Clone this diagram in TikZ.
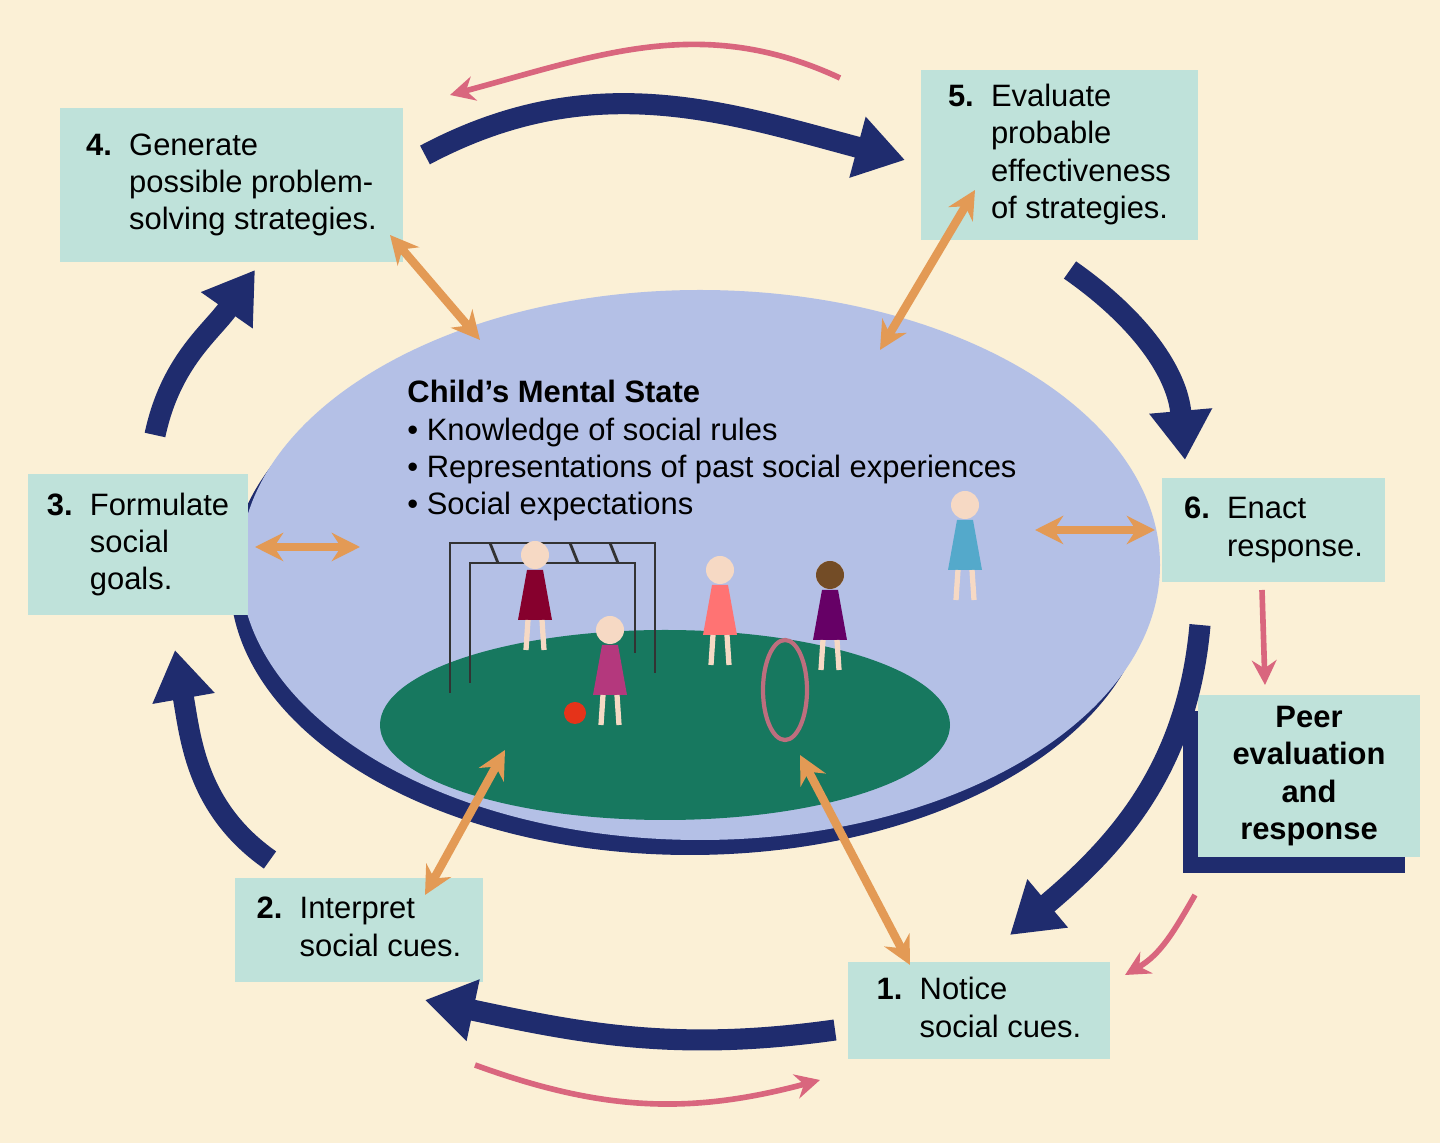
\documentclass[tikz,border=0pt]{standalone}
\usepackage{fontspec}
\setmainfont{Liberation Sans}
\usetikzlibrary{arrows.meta,positioning}
\definecolor{cream}{HTML}{FBF0D6}
\definecolor{boxfill}{HTML}{BFE2DA}
\definecolor{navy}{HTML}{1F2C6E}
\definecolor{lav}{HTML}{B4C0E6}
\definecolor{ground}{HTML}{17785F}
\definecolor{pinkline}{HTML}{D9667E}
\definecolor{orangeline}{HTML}{E39A55}
\definecolor{skin}{HTML}{F6D9C4}
\tikzset{
  box/.style={fill=boxfill, inner sep=3pt, font=\fontsize{8.8}{10.6}\selectfont},
  cycle/.style={navy, line width=6pt, -{Triangle[length=14pt,width=17pt]}},
  feedback/.style={pinkline, line width=1.6pt, -{Stealth[length=7pt,width=7pt]}},
  link/.style={orangeline, line width=2.4pt, {Stealth[length=8pt,width=8pt]}-{Stealth[length=8pt,width=8pt]}},
  dress/.style={line width=0.4pt}
}
\newcommand{\steplist}[2]{\begin{tabular}{@{}l@{\ \ }l@{}}\textbf{#1}&#2\end{tabular}}
\newcommand{\kid}[3]{%
  \fill[#3] (#1-0.17,#2-0.65) -- (#1-0.08,#2-0.15) -- (#1+0.08,#2-0.15) -- (#1+0.17,#2-0.65) -- cycle;
  \draw[skin, line width=1.5pt] (#1-0.07,#2-0.65) -- (#1-0.09,#2-0.95) (#1+0.07,#2-0.65) -- (#1+0.09,#2-0.95);
  \fill[skin] (#1,#2) circle (0.14);}

\begin{document}
\begin{tikzpicture}
  \useasboundingbox[fill=cream] (0,0) rectangle (14.4,11.43);

  % central ellipse with shadow
  \fill[navy] (6.9,5.63) ellipse (4.6 and 2.75);
  \fill[lav] (7.0,5.78) ellipse (4.6 and 2.75);
  \fill[ground] (6.65,4.18) ellipse (2.85 and 0.95);

  \node[anchor=north west, align=left, font=\fontsize{8.8}{10.6}\selectfont] (mind) at (3.95,7.75)
    {\textbf{Child's Mental State}\\
     • Knowledge of social rules\\
     • Representations of past social experiences\\
     • Social expectations};

  % playground
  \draw[black!80, line width=0.8pt] (4.5,4.5) -- (4.5,6.0) -- (6.55,6.0) -- (6.55,4.7)
    (4.7,4.6) -- (4.7,5.8) -- (6.35,5.8) -- (6.35,4.9);
  \foreach \x in {4.9,5.3,5.7,6.1} \draw[black!80, line width=0.8pt] (\x,6.0) -- (\x+0.08,5.8);
  \kid{5.35}{5.88}{purple!70!black}
  \kid{6.1}{5.13}{magenta!70!black}
  \kid{7.2}{5.73}{red!55}
  \kid{8.3}{5.68}{violet!80!black}
  \fill[brown!60!black] (8.3,5.68) circle (0.14);
  \kid{9.65}{6.38}{cyan!60!gray}
  \draw[pinkline!70!gray, line width=1.2pt] (7.85,4.53) ellipse (0.22 and 0.5);
  \fill[red!60!brown] (5.75,4.3) circle (0.11);

  % steps
  \node[box, minimum width=3.43cm, minimum height=1.54cm] (gen) at (2.315,9.58)
    {\steplist{4.}{Generate\\&possible problem-\\&solving strategies.}};
  \node[box, minimum width=2.77cm, minimum height=1.70cm] (eval) at (10.595,9.88)
    {\steplist{5.}{Evaluate\\&probable\\&effectiveness\\&of strategies.}};
  \node[box, minimum width=2.20cm, minimum height=1.41cm] (goal) at (1.38,5.98)
    {\steplist{3.}{Formulate\\&social\\&goals.}};
  \node[box, minimum width=2.23cm, minimum height=1.04cm] (enact) at (12.735,6.13)
    {\steplist{6.}{Enact\\&response.}};
  \fill[navy] (11.83,2.70) rectangle (14.05,4.32);
  \node[box, minimum width=2.22cm, minimum height=1.62cm, align=center, font=\fontsize{8.8}{10.6}\selectfont\bfseries] (peer) at (13.09,3.67)
    {Peer\\evaluation\\and\\response};
  \node[box, minimum width=2.48cm, minimum height=1.04cm] (interp) at (3.59,2.13)
    {\steplist{2.}{Interpret\\&social cues.}};
  \node[box, minimum width=2.62cm, minimum height=0.97cm] (notice) at (9.79,1.32)
    {\steplist{1.}{Notice\\&social cues.}};

  % main cycle
  \coordinate (c4a) at (4.25,9.88);  \coordinate (c4b) at (9.05,9.83);
  \coordinate (c5a) at (10.7,8.73);  \coordinate (c5b) at (11.85,6.83);
  \coordinate (c6a) at (12.0,5.18);  \coordinate (c6b) at (10.1,2.08);
  \coordinate (c1a) at (8.35,1.13);  \coordinate (c1b) at (4.25,1.43);
  \coordinate (c2a) at (2.7,2.83);   \coordinate (c2b) at (1.75,4.93);
  \coordinate (c3a) at (1.55,7.08);  \coordinate (c3b) at (2.55,8.73);
  \draw[cycle] (c4a) to[out=28,in=165] (c4b);
  \draw[cycle] (c5a) to[out=-35,in=95] (c5b);
  \draw[cycle] (c6a) to[out=-95,in=40] (c6b);
  \draw[cycle] (c1a) to[out=188,in=-12] (c1b);
  \draw[cycle] (c2a) to[out=145,in=-80] (c2b);
  \draw[cycle] (c3a) to[out=78,in=-125] (c3b);

  % feedback
  \coordinate (f1a) at (8.4,10.65);  \coordinate (f1b) at (4.5,10.48);
  \coordinate (f2a) at (12.62,5.53); \coordinate (f2b) at (12.65,4.58);
  \coordinate (f3a) at (11.95,2.48); \coordinate (f3b) at (11.25,1.68);
  \coordinate (f4a) at (4.75,0.78);  \coordinate (f4b) at (8.2,0.63);
  \draw[feedback] (f1a) to[out=155,in=15] (f1b);
  \draw[feedback] (f2a) to (f2b);
  \draw[feedback] (f3a) to[out=-120,in=30] (f3b);
  \draw[feedback] (f4a) to[out=-20,in=195] (f4b);

  % links to mental state
  \coordinate (l4a) at (3.9,9.08);   \coordinate (l4b) at (4.8,8.03);
  \coordinate (l5a) at (9.75,9.53);  \coordinate (l5b) at (8.8,7.93);
  \coordinate (l3a) at (2.55,5.96);  \coordinate (l3b) at (3.6,5.96);
  \coordinate (l6a) at (10.35,6.13); \coordinate (l6b) at (11.55,6.13);
  \coordinate (l2a) at (4.25,2.48);  \coordinate (l2b) at (5.05,3.93);
  \coordinate (l1a) at (9.1,1.78);   \coordinate (l1b) at (8.0,3.88);
  \foreach \p in {4,5,3,6,2,1} \draw[link] (l\p a) -- (l\p b);
\end{tikzpicture}
\end{document}
